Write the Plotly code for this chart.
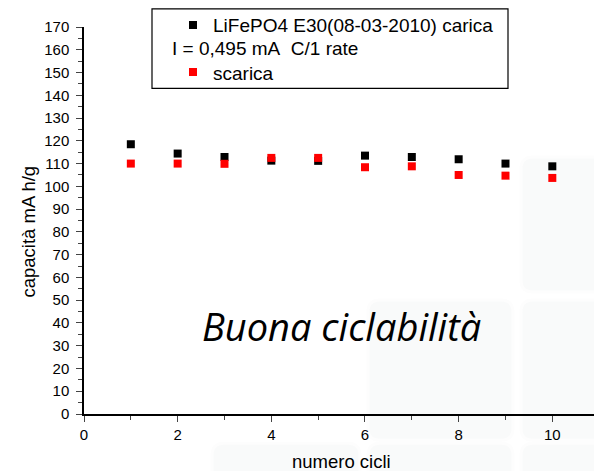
import plotly.graph_objects as go

# ---- data ----
cicli = [1, 2, 3, 4, 5, 6, 7, 8, 9, 10]
carica = [118.5, 114.4, 112.9, 111.3, 111.2, 113.5, 112.9, 111.9, 110.0, 108.8]
scarica = [110.0, 110.0, 109.9, 112.5, 112.5, 108.4, 108.8, 105.0, 104.7, 103.7]
name_carica = "LiFePO4 E30(08-03-2010) carica"
name_info = "I = 0,495 mA\u00a0\u00a0C/1 rate"
name_scarica = "scarica"
x_title = "numero cicli"
y_title = "capacità mA h/g"
note = "Buona ciclabilità"

W, H = 594, 471
L, R, T, B = 84, 0, 27.3, 57.3
PW = W - L - R
PH = H - T - B

def px(x):
    return (x - L) / PW

def py(y):
    return (H - B - y) / PH

FONT = "Liberation Sans, Arial"

fig = go.Figure()
fig.add_trace(go.Scatter(x=cicli, y=carica, mode="markers", name=name_carica, legend="legend",
                         marker=dict(symbol="square", size=8, color="black")))
fig.add_trace(go.Scatter(x=cicli, y=scarica, mode="markers", name=name_scarica, legend="legend2",
                         marker=dict(symbol="square", size=8, color="#ff0000")))

# background watermark tiles (pixel rectangles)
tiles = [(521, 157, 640, 292), (368, 300, 513, 440), (521, 300, 640, 440),
         (212, 443, 360, 520), (368, 443, 513, 520), (521, 443, 640, 520)]
shapes = []
for (x0, y0, x1, y1) in tiles:
    r = 12
    pth = (f"M {px(x0+r)},{py(y0)} L {px(x1-r)},{py(y0)} Q {px(x1)},{py(y0)} {px(x1)},{py(y0+r)} "
           f"L {px(x1)},{py(y1-r)} Q {px(x1)},{py(y1)} {px(x1-r)},{py(y1)} "
           f"L {px(x0+r)},{py(y1)} Q {px(x0)},{py(y1)} {px(x0)},{py(y1-r)} "
           f"L {px(x0)},{py(y0+r)} Q {px(x0)},{py(y0)} {px(x0+r)},{py(y0)} Z")
    shapes.append(dict(type="path", path=pth, xref="paper", yref="paper", layer="below",
                       fillcolor="#f9fafa", line=dict(color="#fdfdfd", width=3)))
# legend box
shapes.append(dict(type="rect", xref="paper", yref="paper", x0=px(152), x1=px(508),
                   y0=py(88.5), y1=py(9.3), line=dict(color="black", width=1.2),
                   fillcolor="rgba(0,0,0,0)", layer="above"))

leg_common = dict(xanchor="left", yanchor="top", bgcolor="rgba(0,0,0,0)", borderwidth=0,
                  font=dict(size=19, family=FONT))

fig.update_layout(
    width=W, height=H,
    margin=dict(l=L, r=R, t=T, b=B),
    paper_bgcolor="white", plot_bgcolor="rgba(0,0,0,0)",
    font=dict(family=FONT, color="black"),
    showlegend=True,
    legend=dict(x=px(173), y=py(6.5), **leg_common),
    legend2=dict(x=px(173), y=py(53.5), **leg_common),
    shapes=shapes,
    annotations=[
        dict(text=name_info, xref="paper", yref="paper", x=px(170), y=py(49),
             xanchor="left", yanchor="middle", showarrow=False,
             font=dict(size=19, family=FONT)),
        dict(text=x_title, xref="paper", yref="paper", x=px(341.7), y=py(461),
             xanchor="center", yanchor="middle", showarrow=False,
             font=dict(size=18.5, family=FONT)),
        dict(text=y_title, xref="paper", yref="paper", x=px(28.5), y=py(232),
             xanchor="center", yanchor="middle", showarrow=False, textangle=-90,
             font=dict(size=18.5, family=FONT)),
        dict(text=note, xref="paper", yref="paper", x=px(341.5), y=py(326),
             xanchor="center", yanchor="middle", showarrow=False,
             font=dict(size=38, family="Open Sans", style="italic")),
    ],
)
fig.update_xaxes(range=[0, 10.89], dtick=2, tick0=0, ticks="outside", ticklen=6, tickwidth=1.2,
                 showline=True, linecolor="black", linewidth=1.5, showgrid=False, zeroline=False,
                 tickfont=dict(size=15), minor=dict(dtick=1, ticks="outside", ticklen=4, tickwidth=1.2,
                                                    showgrid=False))
fig.update_yaxes(range=[0, 170], dtick=10, tick0=0, ticks="outside", ticklen=6, tickwidth=1.2,
                 showline=True, linecolor="black", linewidth=1.5, showgrid=False, zeroline=False,
                 ticklabelstandoff=4,
                 tickfont=dict(size=15), minor=dict(dtick=5, ticks="outside", ticklen=4, tickwidth=1.2,
                                                    showgrid=False))
fig.write_html("out.html")
